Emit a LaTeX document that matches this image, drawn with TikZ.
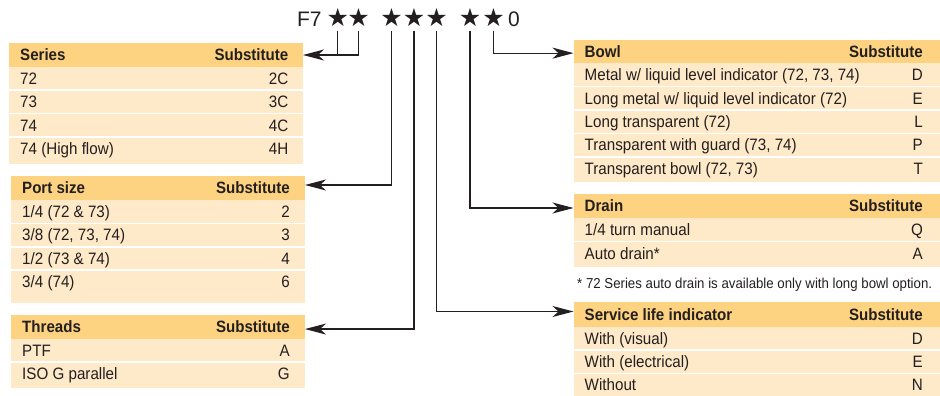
\documentclass[tikz,border=0pt]{standalone}
\usepackage{fontspec}
\setmainfont{Liberation Sans}[FakeStretch=0.92]
\newfontfamily\codefont{Liberation Sans}
\newfontfamily\symfont{DejaVu Sans}
\usetikzlibrary{arrows.meta}
\definecolor{hdrc}{RGB}{253,210,128}
\definecolor{rowc}{RGB}{254,233,200}
\definecolor{ink}{RGB}{35,31,32}
\newcommand\rx{0}
\newcommand\thead[6]{%
  \node[hdrbox, minimum width={#3-#2}, minimum height={#5-#4}] (#1) at ({(#2+#3)/2},{(#4+#5)/2}) {};
  \node[htxt, anchor=base west] (#1-t) at ({#2+11},{(#4+#5)/2+5.9}) {#6};
  \node[htxt, anchor=base east] (#1-s) at (\rx,{(#4+#5)/2+5.9}) {Substitute};
}
\newcommand\trow[7]{%
  \node[rowbox, minimum width={#3-#2}, minimum height={#5-#4}] (#1) at ({(#2+#3)/2},{(#4+#5)/2}) {};
  \node[rtxt, anchor=base west] (#1-l) at ({#2+11},{#4+17.5}) {#6};
  \node[rtxt, anchor=base east] (#1-r) at (\rx,{#4+17.5}) {#7};
}
\newcommand\trowS[7]{\trow{#1}{#2}{#3}{#4}{#5}{#6}{#7}\draw[sepline] (#1.north west) -- (#1.north east);}
\begin{document}
\begin{tikzpicture}[x=1pt,y=-1pt,
  hdrbox/.style={fill=hdrc, inner sep=0, outer sep=0},
  rowbox/.style={fill=rowc, inner sep=0, outer sep=0},
  htxt/.style={font=\fontsize{16.4}{19}\selectfont\bfseries, text=ink, inner sep=0},
  rtxt/.style={font=\fontsize{16.5}{19}\selectfont, text=ink, inner sep=0},
  notetxt/.style={font=\fontsize{14.4}{17}\selectfont, text=ink, inner sep=0},
  codetxt/.style={font=\codefont\fontsize{21}{24}\selectfont, text=ink, inner sep=0},
  startxt/.style={font=\symfont\fontsize{25}{28}\selectfont, text=ink, inner sep=0, outer xsep=0, outer ysep=4pt},
  sepline/.style={draw=white, line width=1.6pt},
  conn/.style={draw=ink, line width=1.2pt},
  arr/.style={conn, -{Stealth[length=21pt,width=11pt,inset=6pt]}}]
\useasboundingbox (0,0) rectangle (940,396);

% code
\node[codetxt, anchor=base west] (f7) at (296.8,26.3) {F7};
\node[startxt] (s1) at (337.8,17.5) {★};
\node[startxt] (s2) at (358.5,17.5) {★};
\node[startxt] (s3) at (391.7,17.5) {★};
\node[startxt] (s4) at (414,17.5) {★};
\node[startxt] (s5) at (436.5,17.5) {★};
\node[startxt] (s6) at (470,17.5) {★};
\node[startxt] (s7) at (493.5,17.5) {★};
\node[codetxt, anchor=base] (z0) at (514,26.3) {0};

% Series
\renewcommand\rx{288.5}
\thead{series}{9}{303}{43}{67}{Series}
\trow{se1}{9}{303}{67}{90.3}{72}{2C}
\trowS{se2}{9}{303}{90.3}{113.6}{73}{3C}
\trowS{se3}{9}{303}{113.6}{136.9}{74}{4C}
\trowS{se4}{9}{303}{136.9}{164.3}{74 (High flow)}{4H}

% Port size
\renewcommand\rx{290}
\thead{port}{11}{305}{176}{200}{Port size}
\trow{po1}{11}{305}{200}{223.3}{1/4 (72 \& 73)}{2}
\trowS{po2}{11}{305}{223.3}{246.7}{3/8 (72, 73, 74)}{3}
\trowS{po3}{11}{305}{246.7}{270}{1/2 (73 \& 74)}{4}
\trowS{po4}{11}{305}{270}{303}{3/4 (74)}{6}

% Threads
\thead{threads}{11}{305}{315}{338.5}{Threads}
\trow{th1}{11}{305}{338.5}{362}{PTF}{A}
\trowS{th2}{11}{305}{362}{388}{ISO G parallel}{G}

% Bowl
\renewcommand\rx{923}
\thead{bowl}{573.5}{940}{40}{63.3}{Bowl}
\trow{bo1}{573.5}{940}{63.3}{86.7}{Metal w/ liquid level indicator (72, 73, 74)}{D}
\trowS{bo2}{573.5}{940}{86.7}{110}{Long metal w/ liquid level indicator (72)}{E}
\trowS{bo3}{573.5}{940}{110}{133.3}{Long transparent (72)}{L}
\trowS{bo4}{573.5}{940}{133.3}{156.7}{Transparent with guard (73, 74)}{P}
\trowS{bo5}{573.5}{940}{156.7}{182}{Transparent bowl (72, 73)}{T}

% Drain
\thead{drain}{573.5}{940}{194}{218}{Drain}
\trow{dr1}{573.5}{940}{218}{241.5}{1/4 turn manual}{Q}
\trowS{dr2}{573.5}{940}{241.5}{267}{Auto drain*}{A}
\node[notetxt, anchor=base west] (note) at (577,288.4) {* 72 Series auto drain is available only with long bowl option.};

% Service life indicator
\thead{service}{573.5}{940}{302.3}{326.7}{Service life indicator}
\trow{sv1}{573.5}{940}{326.7}{350}{With (visual)}{D}
\trowS{sv2}{573.5}{940}{350}{373.3}{With (electrical)}{E}
\trowS{sv3}{573.5}{940}{373.3}{396}{Without}{N}

% connectors
\draw[conn] (s1) -- (s1 |- series.east);
\draw[arr] (s2) |- (series.east);
\draw[arr] (s3) |- ([yshift=3pt]port.east);
\draw[arr] (s4) |- ([yshift=-2.3pt]threads.east);
\draw[arr] (s5) |- ([yshift=3pt]service.west);
\draw[arr] (s6) |- ([yshift=-2pt]drain.west);
\draw[arr] (s7) |- ([yshift=-1.5pt]bowl.west);
\end{tikzpicture}
\end{document}
